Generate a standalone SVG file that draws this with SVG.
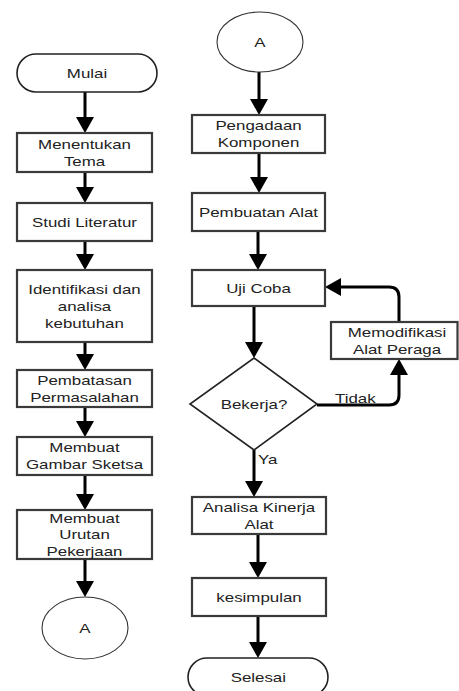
<svg xmlns="http://www.w3.org/2000/svg" width="459" height="691" viewBox="0 0 459 691">
<style>
.box{fill:#fff;stroke:#3a3a3a;stroke-width:2.2}
.term{fill:#fff;stroke:#222;stroke-width:1.6}
.circ{fill:#fff;stroke:#333;stroke-width:1.1}
.dia{fill:#fff;stroke:#222;stroke-width:1.6}
.t{font-family:"Liberation Sans",Arial,sans-serif;font-size:13.5px;fill:#222;text-anchor:middle}
.l{font-family:"Liberation Sans",Arial,sans-serif;font-size:13.5px;fill:#222}
.c{fill:none;stroke:#000;stroke-width:3;marker-end:url(#ah)}
</style>
<defs>
<marker id="ah" markerUnits="userSpaceOnUse" markerWidth="18" markerHeight="18" refX="8" refY="9" orient="auto">
<path d="M0,0 L16,9 L0,18 z" fill="#000"/>
</marker>
</defs>
<rect width="459" height="691" fill="#fff"/>
<g id="connectors">
<path class="c" d="M85,92 V125"/>
<path class="c" d="M85,172 V195"/>
<path class="c" d="M85,241 V262"/>
<path class="c" d="M85,342 V362"/>
<path class="c" d="M85,407 V429"/>
<path class="c" d="M85,475 V502"/>
<path class="c" d="M85,559 V589"/>
<path class="c" d="M259,72 V107"/>
<path class="c" d="M259,153 V185"/>
<path class="c" d="M258,231 V262"/>
<path class="c" d="M254,306 V350"/>
<path class="c" d="M254,450 V489"/>
<path class="c" d="M258,534 V570"/>
<path class="c" d="M258,616 V650"/>
<path class="c" d="M317,405 H389 Q399,405 399,395 V367"/>
<path class="c" d="M399,322 V297 Q399,287 389,287 H333"/>
<text class="l" transform="translate(335 0) scale(1.25 1)" x="0" y="403">Tidak</text>
<text class="l" transform="translate(258 0) scale(1.25 1)" x="0" y="464">Ya</text>
</g>
<g id="mulai">
<rect class="term" x="17" y="54" width="140" height="38" rx="19"/>
<text class="t" transform="translate(87 0) scale(1.25 1)"><tspan x="0" y="77.9">Mulai</tspan></text>
</g>
<g id="menentukan-tema">
<rect class="box" x="17" y="133" width="135" height="39"/>
<text class="t" transform="translate(84.5 0) scale(1.25 1)"><tspan x="0" y="148.9">Menentukan</tspan><tspan x="0" y="165.9">Tema</tspan></text>
</g>
<g id="studi-literatur">
<rect class="box" x="17" y="203" width="135" height="38"/>
<text class="t" transform="translate(84.5 0) scale(1.25 1)"><tspan x="0" y="226.9">Studi Literatur</tspan></text>
</g>
<g id="identifikasi">
<rect class="box" x="17" y="270" width="135" height="72"/>
<text class="t" transform="translate(84.5 0) scale(1.25 1)"><tspan x="0" y="294.2">Identifikasi dan</tspan><tspan x="0" y="310.9">analisa</tspan><tspan x="0" y="327.6">kebutuhan</tspan></text>
</g>
<g id="pembatasan">
<rect class="box" x="17" y="370" width="135" height="37"/>
<text class="t" transform="translate(84.5 0) scale(1.25 1)"><tspan x="0" y="384.9">Pembatasan</tspan><tspan x="0" y="401.9">Permasalahan</tspan></text>
</g>
<g id="gambar-sketsa">
<rect class="box" x="17" y="437" width="135" height="38"/>
<text class="t" transform="translate(84.5 0) scale(1.25 1)"><tspan x="0" y="452.4">Membuat</tspan><tspan x="0" y="469.4">Gambar Sketsa</tspan></text>
</g>
<g id="urutan-pekerjaan">
<rect class="box" x="17" y="510" width="135" height="49"/>
<text class="t" transform="translate(84.5 0) scale(1.25 1)"><tspan x="0" y="522.7">Membuat</tspan><tspan x="0" y="539.4">Urutan</tspan><tspan x="0" y="556.1">Pekerjaan</tspan></text>
</g>
<g id="connector-a-out">
<ellipse class="circ" cx="85" cy="628" rx="43" ry="31"/>
<text class="t" transform="translate(85 0) scale(1.25 1)"><tspan x="0" y="632.9">A</tspan></text>
</g>
<g id="connector-a-in">
<ellipse class="circ" cx="260" cy="42" rx="43" ry="30"/>
<text class="t" transform="translate(260 0) scale(1.25 1)"><tspan x="0" y="46.9">A</tspan></text>
</g>
<g id="pengadaan">
<rect class="box" x="192" y="115" width="133" height="38"/>
<text class="t" transform="translate(258.5 0) scale(1.25 1)"><tspan x="0" y="130.4">Pengadaan</tspan><tspan x="0" y="147.4">Komponen</tspan></text>
</g>
<g id="pembuatan-alat">
<rect class="box" x="192" y="193" width="133" height="38"/>
<text class="t" transform="translate(258.5 0) scale(1.25 1)"><tspan x="0" y="216.9">Pembuatan Alat</tspan></text>
</g>
<g id="uji-coba">
<rect class="box" x="192" y="270" width="133" height="36"/>
<text class="t" transform="translate(258.5 0) scale(1.25 1)"><tspan x="0" y="292.9">Uji Coba</tspan></text>
</g>
<g id="bekerja">
<polygon class="dia" points="254,358 317,404 254,450 190,404"/>
<text class="t" transform="translate(254 0) scale(1.25 1)"><tspan x="0" y="409.5">Bekerja?</tspan></text>
</g>
<g id="memodifikasi">
<rect class="box" x="331" y="322" width="126.5" height="37"/>
<text class="t" transform="translate(397 0) scale(1.25 1)"><tspan x="0" y="336.9">Memodifikasi</tspan><tspan x="0" y="353.9">Alat Peraga</tspan></text>
</g>
<g id="analisa-kinerja">
<rect class="box" x="192" y="497" width="134" height="37"/>
<text class="t" transform="translate(259 0) scale(1.25 1)"><tspan x="0" y="511.9">Analisa Kinerja</tspan><tspan x="0" y="528.9">Alat</tspan></text>
</g>
<g id="kesimpulan">
<rect class="box" x="192" y="578" width="134" height="38"/>
<text class="t" transform="translate(259 0) scale(1.25 1)"><tspan x="0" y="601.9">kesimpulan</tspan></text>
</g>
<g id="selesai">
<rect class="term" x="188" y="658" width="140" height="38" rx="19"/>
<text class="t" transform="translate(258.3 0) scale(1.25 1)"><tspan x="0" y="681.9">Selesai</tspan></text>
</g>
</svg>
